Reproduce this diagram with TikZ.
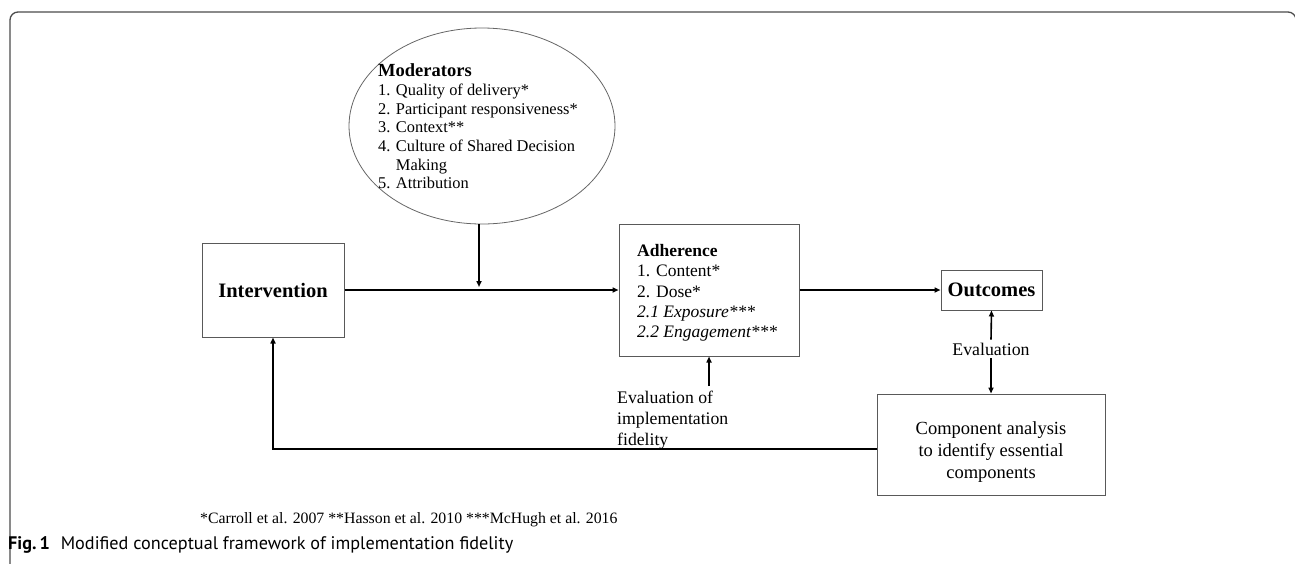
\documentclass[tikz,border=0pt]{standalone}
\usepackage{fontspec}
\setmainfont{Liberation Serif}
\newfontfamily\capfont{PT Sans}
\usetikzlibrary{shapes.geometric,arrows.meta}

\tikzset{
  box/.style={draw=black!65,line width=1pt,rectangle,inner sep=0pt},
  arr/.style={line width=1.6pt,-{Triangle[length=6pt,width=5pt]}},
  txt/.style={inner sep=0pt},
}
\newcommand{\sz}[2]{\fontsize{#1}{#2}\selectfont}

\begin{document}
\begin{tikzpicture}[x=1pt,y=-1pt]
\useasboundingbox (0,0) rectangle (1295,563);
% frame round the figure
\begin{scope}
\clip (0,0) rectangle (1295,563);
\draw[black!70,line width=1.3pt,rounded corners=8pt] (10,620) -- (10,12) -- (1296,12) -- (1296,620);
\end{scope}

% moderators
\node[ellipse,draw=black!60,line width=0.8pt,minimum width=266pt,minimum height=196pt,inner sep=0pt] (mod) at (482,126) {};
\node[txt,anchor=west] (modtext) at (378,129)
  {\sz{16.4}{18.7}\begin{tabular}{@{}l@{ }l@{}}
   \multicolumn{2}{@{}l@{}}{\sz{18.5}{18.7}\bfseries Moderators}\\
   1. & Quality of delivery*\\
   2. & Participant responsiveness*\\
   3. & Context**\\
   4. & Culture of Shared Decision\\
      & Making\\
   5. & Attribution
   \end{tabular}};

% boxes
\node[box,minimum width=142pt,minimum height=94pt] (inter) at (273,290) {\sz{20.5}{24}\bfseries Intervention};
\node[box,minimum width=180pt,minimum height=132pt] (adh) at (709,290) {};
\node[txt,anchor=west] (adhtext) at (637,293)
  {\sz{17.5}{20.2}\begin{tabular}{@{}l@{}}
   \textbf{Adherence}\\
   1. Content*\\
   2. Dose*\\
   \textit{2.1 Exposure***}\\
   \textit{2.2 Engagement***}
   \end{tabular}};
\node[box,minimum width=101pt,minimum height=40pt] (out) at (991.5,290) {\sz{20.5}{24}\bfseries Outcomes};
\node[box,minimum width=228pt,minimum height=101pt] (comp) at (991,444.5) {};
\node[txt] (comptext) at (991,452)
  {\sz{18.5}{22}\begin{tabular}{@{}c@{}}
   Component analysis\\to identify essential\\components
   \end{tabular}};

% labels
\node[txt] (evalo) at (991,349) {\sz{17.8}{21}Evaluation};
\node[txt,anchor=north west] (evalf) at (617,389)
  {\sz{17.7}{21}\begin{tabular}{@{}l@{}}
   Evaluation of\\implementation\\fidelity
   \end{tabular}};

% connectors
\coordinate (modend) at (479,287);
\coordinate (fbturn) at (273,449);
\draw[arr] (mod.south -| modend) -- (modend);
\draw[arr] (inter.east) -- (adh.west);
\draw[arr] (adh.east) -- (out.west);
\draw[arr] (evalo.north) ++(0,-3) -- (out.south);
\draw[arr] (evalo.south) ++(0,3) -- (comp.north);
\draw[arr] (adh.south |- evalf.north) ++(0,-3) -- (adh.south);
\draw[arr] (comp.west |- fbturn) -- (fbturn) -- (inter.south);

% references and caption
\node[txt,anchor=west] (refs) at (200,520)
  {\sz{15.8}{18}*Carroll et al. 2007 **Hasson et al. 2010 ***McHugh et al. 2016};
\node[txt,anchor=west] (caption) at (8,545)
  {\capfont\sz{18.2}{20}\textbf{Fig.\,1}\hspace{0.6em}Modified conceptual framework of implementation fidelity};
\end{tikzpicture}
\end{document}
